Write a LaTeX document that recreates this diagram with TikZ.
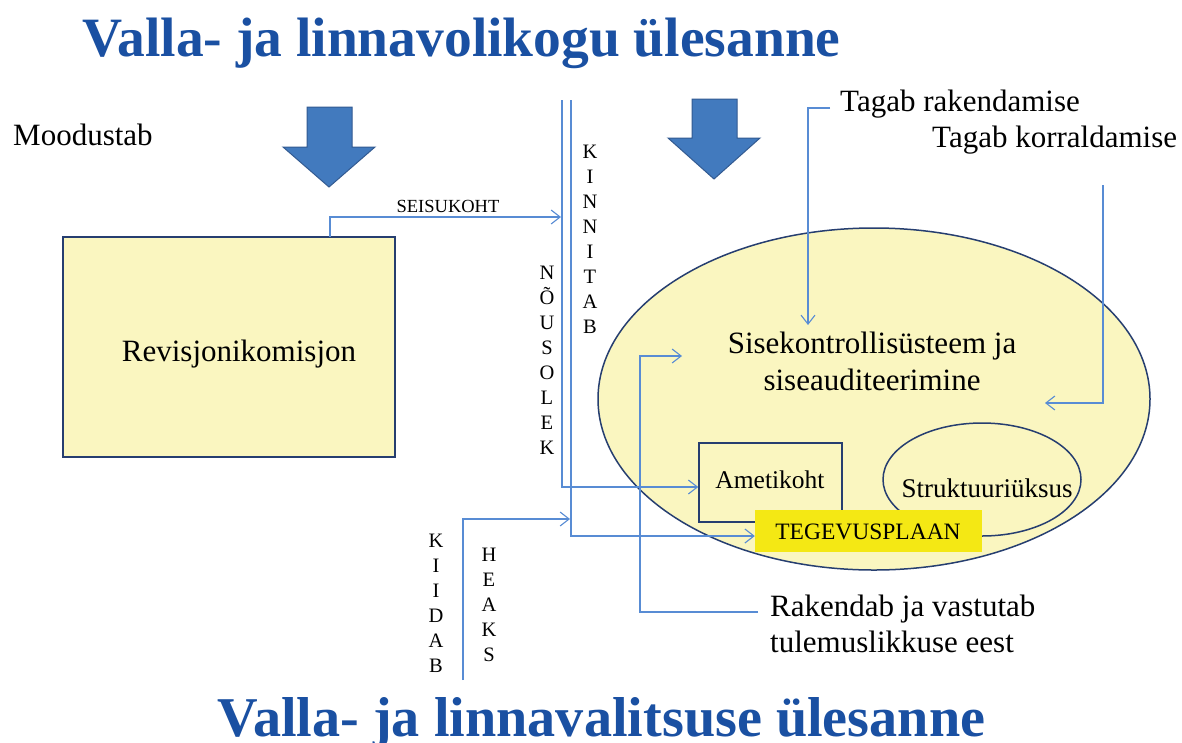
\documentclass[tikz,border=0pt]{standalone}
\usepackage{fontspec}
\setmainfont{Liberation Serif}
\usetikzlibrary{arrows.meta,shapes.geometric}
\definecolor{titleblue}{RGB}{26,80,162}
\definecolor{arrowfill}{RGB}{66,122,190}
\definecolor{arrowedge}{RGB}{50,90,145}
\definecolor{paleyellow}{RGB}{250,246,192}
\definecolor{navy}{RGB}{38,62,112}
\definecolor{connblue}{RGB}{88,140,212}
\definecolor{brightyellow}{RGB}{244,232,20}
\tikzset{
  titletext/.style={text=titleblue, inner sep=0pt, anchor=base},
  bodytext/.style={font=\fontsize{31}{37}\selectfont, inner sep=0pt},
  vletters/.style={font=\fontsize{20.5}{25}\selectfont, align=center, inner sep=0pt},
  bigarrow/.style={fill=arrowfill, draw=arrowedge, line width=1pt, line join=miter},
  conn/.style={draw=connblue, line width=1.1pt, -{Straight Barb[length=9pt,width=14pt,line width=1.1pt]}},
  boxshape/.style={draw=navy, line width=1.5pt}
}
\begin{document}
\begin{tikzpicture}[x=1pt,y=-1pt]
\useasboundingbox (0,0) rectangle (1182,742);
\fill[white] (0,0) rectangle (1182,742);

% titles
\node[titletext, font=\fontsize{55.5}{60}\selectfont\bfseries] (t1) at (461.5,56) {Valla- ja linnavolikogu ülesanne};
\node[titletext, font=\fontsize{56.2}{60}\selectfont\bfseries] (t2) at (601.5,736) {Valla- ja linnavalitsuse ülesanne};

% big arrows
\draw[bigarrow] (307,107) -- (352,107) -- (352,147) -- (375,147) -- (329,187) -- (283,147) -- (307,147) -- cycle;
\draw[bigarrow] (692,99) -- (737,99) -- (737,138) -- (760,138) -- (714,179) -- (668,138) -- (692,138) -- cycle;

% texts
\node[bodytext, anchor=base west] (mood) at (13,145) {Moodustab};
\node[bodytext, anchor=base west] (tr) at (840,111) {Tagab rakendamise};
\node[bodytext, anchor=base west] (tk) at (932,147) {Tagab korraldamise};

% Revisjonikomisjon
\node[boxshape, fill=paleyellow, minimum width=332pt, minimum height=220pt, inner sep=0pt] (rev) at (229,347) {};
\node[bodytext, anchor=base] (revt) at (239,361) {Revisjonikomisjon};

% big ellipse
\node[ellipse, boxshape, fill=paleyellow, minimum width=552pt, minimum height=342pt, inner sep=0pt] (sis) at (874,399) {};
\node[bodytext, anchor=base] (sist1) at (872,353) {Sisekontrollisüsteem ja};
\node[bodytext, anchor=base] (sist2) at (872,390) {siseauditeerimine};

% Ametikoht
\node[boxshape, minimum width=143pt, minimum height=79pt, inner sep=0pt] (amet) at (770.5,482.5) {};
\node[font=\fontsize{25.5}{30}\selectfont, inner sep=0pt, anchor=base] (amett) at (770,488) {Ametikoht};

% Struktuuriüksus
\node[ellipse, boxshape, minimum width=198pt, minimum height=113pt, inner sep=0pt] (stru) at (982,479.5) {};
\node[font=\fontsize{27}{32}\selectfont, inner sep=0pt, anchor=base] (strut) at (987,497) {Struktuuriüksus};

% Rakendab
\node[bodytext, anchor=base west] (rak1) at (770,616) {Rakendab ja vastutab};
\node[bodytext, anchor=base west] (rak2) at (770,652) {tulemuslikkuse eest};

% vertical letters
\node[vletters] (kinn) at (590,239.5) {K\\I\\N\\N\\I\\T\\A\\B};
\node[vletters] (nous) at (547,360.5) {N\\Õ\\U\\S\\O\\L\\E\\K};
\node[vletters] (kiid) at (436,603) {K\\I\\I\\D\\A\\B};
\node[vletters] (heaks) at (489,605) {H\\E\\A\\K\\S};

% SEISUKOHT
\node[font=\fontsize{18.5}{22}\selectfont, inner sep=0pt, anchor=base] (seis) at (448,212) {SEISUKOHT};

% coordinates
\coordinate (v1top) at (562,100);
\coordinate (v2top) at (571,100);
\coordinate (s0) at (330,237);
\coordinate (s1) at (561,217);
\coordinate (kb0) at (463,680);
\coordinate (kb1) at (570,519);
\coordinate (r0) at (758,612);
\coordinate (r1) at (682,356);
\coordinate (tr0) at (830,108);
\coordinate (tr1) at (808,325);
\coordinate (tk0) at (1103,185);
\coordinate (tk1) at (1045,403);

% connectors
\draw[conn] (v1top) |- ([yshift=-4.5pt]amet.west);
\draw[conn] (s0) |- (s1);
\draw[conn] (kb0) |- (kb1);
\draw[conn] (r0) -| (640,356) -- (r1);
\draw[conn] (tr0) -| (tr1);
\draw[conn] (tk0) |- (tk1);

% TEGEVUSPLAAN (above the lines)
\node[fill=brightyellow, minimum width=227pt, minimum height=42pt, inner sep=0pt] (tp) at (868.5,531) {};
\node[font=\fontsize{23.5}{28}\selectfont, inner sep=0pt, anchor=base] (tpt) at (868,539) {TEGEVUSPLAAN};
\draw[conn] (v2top) |- ([yshift=-5pt]tp.west);
\end{tikzpicture}
\end{document}
